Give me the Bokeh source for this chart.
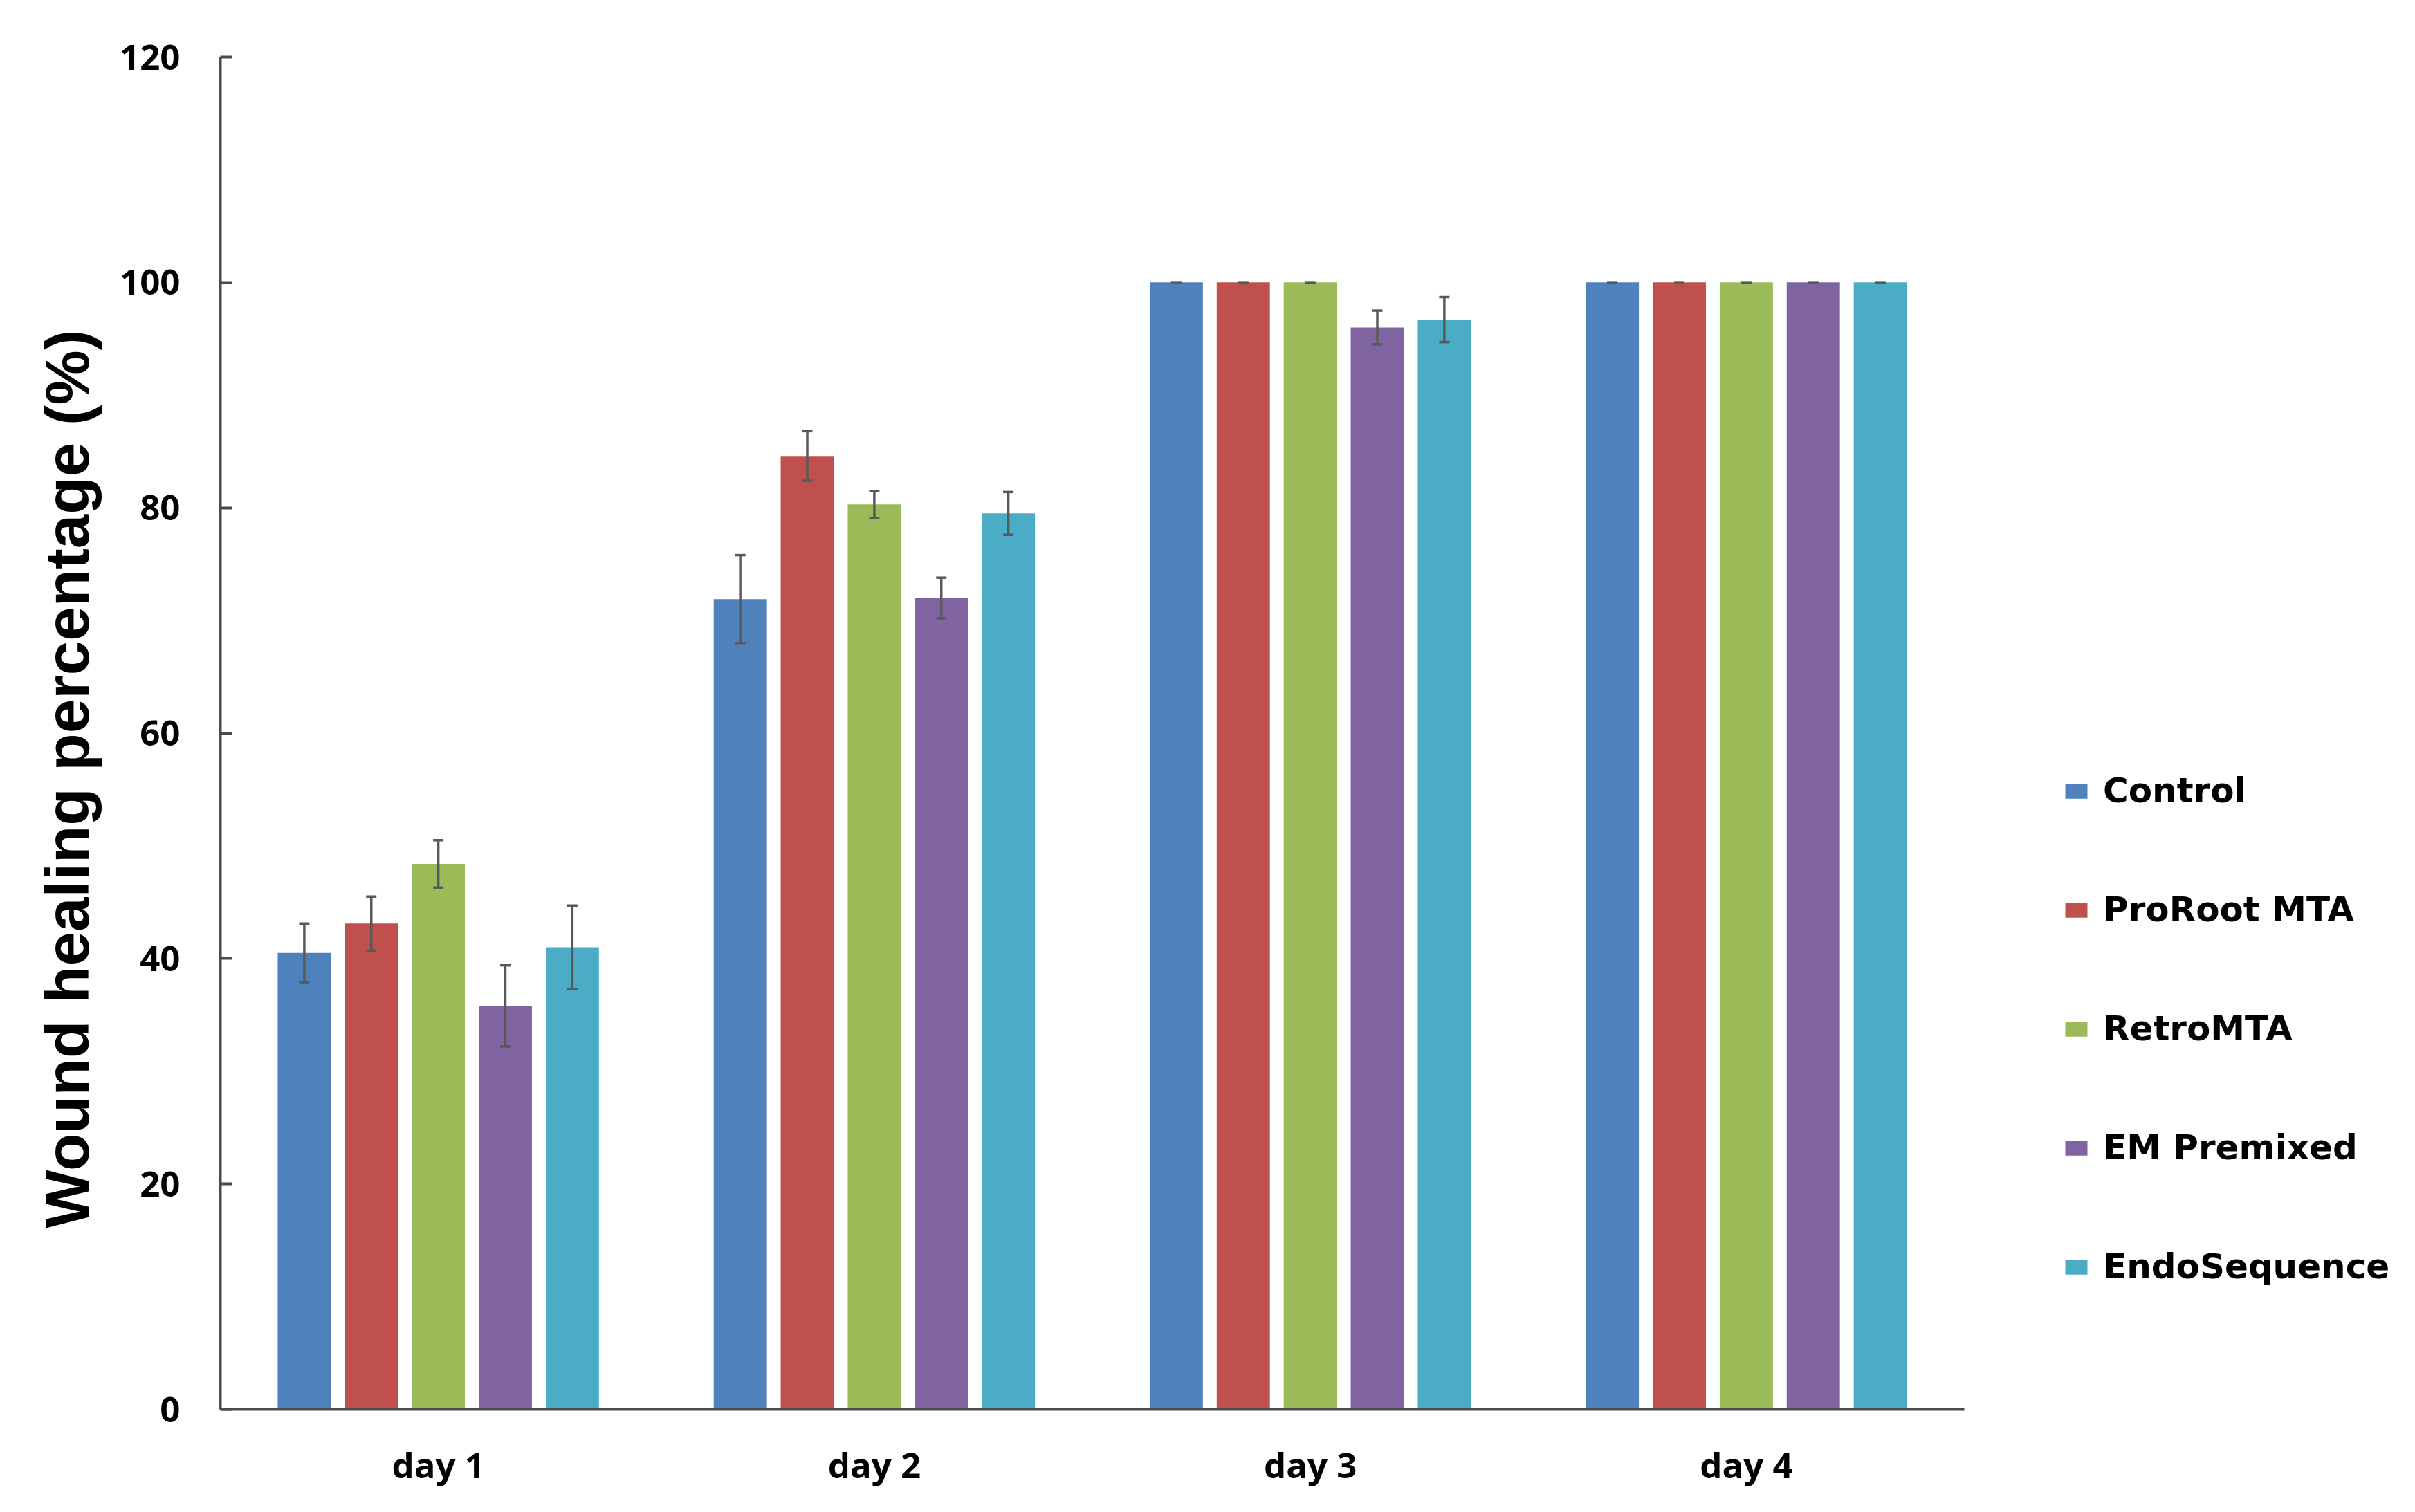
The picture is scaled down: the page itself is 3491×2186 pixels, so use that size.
from bokeh.plotting import figure
from bokeh.models import (ColumnDataSource, FactorRange, Range1d, Whisker,
                          FixedTicker, TeeHead, Legend, LegendItem, Title)
from bokeh.transform import dodge
from bokeh.embed import file_html
from bokeh.resources import INLINE

# ---------------- data ----------------
days = ["day 1", "day 2", "day 3", "day 4"]
series = ["Control", "ProRoot MTA", "RetroMTA", "EM Premixed", "EndoSequence"]
colors = ["#4F81BD", "#C0504D", "#9BBB59", "#8064A2", "#4BACC6"]

control = [40.5, 71.9, 100.0, 100.0]
proroot = [43.1, 84.6, 100.0, 100.0]
retro = [48.4, 80.3, 100.0, 100.0]
em_premixed = [35.8, 72.0, 96.0, 100.0]
endoseq = [41.0, 79.5, 96.7, 100.0]

control_err = [2.6, 3.9, 0.0, 0.0]
proroot_err = [2.4, 2.2, 0.0, 0.0]
retro_err = [2.1, 1.2, 0.0, 0.0]
em_premixed_err = [3.6, 1.8, 1.5, 0.0]
endoseq_err = [3.7, 1.9, 2.0, 0.0]

y_ticks = [0, 20, 40, 60, 80, 100, 120]
y_title = "Wound healing percentage (%)"

values = [control, proroot, retro, em_premixed, endoseq]
errors = [control_err, proroot_err, retro_err, em_premixed_err, endoseq_err]

# ---------------- figure ----------------
p = figure(x_range=FactorRange(*days, range_padding=0),
           y_range=Range1d(0, 120),
           frame_width=2521, frame_height=1955,
           min_border_left=318, min_border_right=630,
           min_border_top=82, min_border_bottom=100,
           output_backend="svg", toolbar_location=None,
           background_fill_color="white", border_fill_color="white")
p.outline_line_color = None
p.xgrid.grid_line_color = None
p.ygrid.grid_line_color = None

pitch = 0.1537
bar_w = 0.122
items = []
for i, (name, col, vals, errs) in enumerate(zip(series, colors, values, errors)):
    off = (i - 2) * pitch
    src = ColumnDataSource(dict(
        day=days, val=vals,
        upper=[v + e for v, e in zip(vals, errs)],
        lower=[v - e for v, e in zip(vals, errs)]))
    r = p.vbar(x=dodge("day", off, range=p.x_range), top="val", bottom=0,
               width=bar_w, source=src, fill_color=col, line_color=None)
    items.append(LegendItem(label=name, renderers=[r]))
    w = Whisker(base=dodge("day", off, range=p.x_range), upper="upper",
                lower="lower", source=src, dimension="height",
                line_color="#595959", line_width=3.5, level="overlay",
                upper_head=TeeHead(size=15, line_color="#595959", line_width=3.5),
                lower_head=TeeHead(size=15, line_color="#595959", line_width=3.5))
    p.add_layout(w)

# axes
ax = p.yaxis[0]
ax.ticker = FixedTicker(ticks=y_ticks)
ax.minor_tick_line_color = None
ax.major_tick_in = 17
ax.major_tick_out = 0
ax.major_tick_line_width = 4
ax.major_tick_line_color = "#4a4a4a"
ax.axis_line_width = 4
ax.axis_line_color = "#4a4a4a"
ax.major_label_text_font = "Open Sans"
ax.major_label_text_font_style = "bold"
ax.major_label_text_font_size = "51px"
ax.major_label_text_color = "black"
ax.major_label_standoff = 58

# y-axis title as a side title (so it can be shifted along the axis)
yt = Title(text=y_title, align="left", offset=262, standoff=47,
           text_font="Liberation Sans", text_font_style="bold",
           text_font_size="89px", text_color="black")
p.add_layout(yt, "left")

xa = p.xaxis[0]
xa.major_tick_line_color = None
xa.minor_tick_line_color = None
xa.axis_line_width = 4
xa.axis_line_color = "#4a4a4a"
xa.major_label_text_font = "Open Sans"
xa.major_label_text_font_style = "bold"
xa.major_label_text_font_size = "51px"
xa.major_label_text_color = "black"
xa.major_label_standoff = 38

# legend (in the right panel)
lg = Legend(items=items, location=(142, 177))
lg.border_line_color = None
lg.background_fill_alpha = 0
lg.padding = 0
lg.margin = 0
lg.glyph_width = 40
lg.glyph_height = 27
lg.label_standoff = 19
lg.spacing = 114
lg.label_text_font = "DejaVu Sans"
lg.label_text_font_style = "bold"
lg.label_text_font_size = "50px"
lg.label_text_color = "black"
p.add_layout(lg, "right")

open("out.html", "w").write(file_html(p, INLINE))
